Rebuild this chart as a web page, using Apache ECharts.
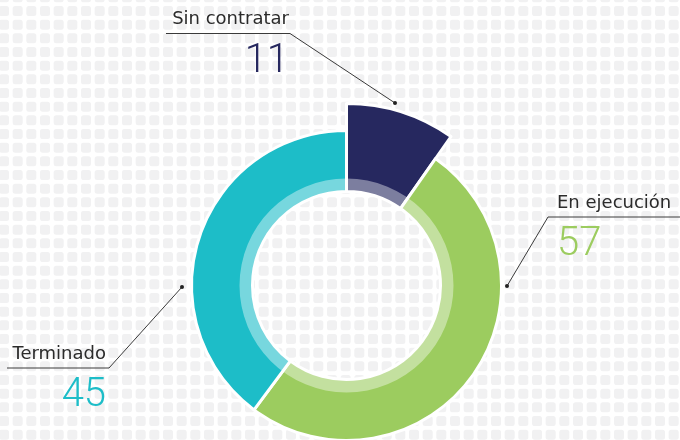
<!DOCTYPE html>
<html>
<head>
<meta charset="utf-8">
<script src="https://cdn.jsdelivr.net/npm/echarts@6/dist/echarts.min.js"></script>
<style>
  html, body { margin: 0; padding: 0; background: #fff; }
  #chart { width: 680px; height: 440px; }
</style>
</head>
<body>
<div id="chart"></div>
<script>
const categories = ['Sin contratar', 'En ejecución', 'Terminado'];
const values = [11, 57, 45];
const colors = ['#26285f', '#9ccc5f', '#1dbdc8'];

// ring geometry (px)
const cx = 346.5, cy = 285.5;
const rHole = 94, rBand = 107, rOuter = 155, rOuterBig = 182;

// label placement: anchor dot, elbow, end of underline
const labelSpots = [
  { dot: [395, 103], elbow: [290, 33.5], end: [166, 33.5], x: 289, align: 'right' },
  { dot: [507, 286], elbow: [548, 217], end: [682, 217], x: 557, align: 'left' },
  { dot: [182, 287], elbow: [109, 368], end: [7, 368], x: 106, align: 'right' },
];

// tiled background of light rounded squares
function makeTile() {
  const c = document.createElement('canvas');
  c.width = 41; c.height = 41;
  const ctx = c.getContext('2d');
  ctx.fillStyle = '#fff';
  ctx.fillRect(0, 0, 41, 41);
  ctx.fillStyle = '#f1f1f2';
  const xs = [-1, 12.67, 26.33, 40];
  const ys = [-7.67, 6, 19.67, 33.33];
  xs.forEach(x => ys.forEach(y => {
    ctx.beginPath();
    ctx.roundRect(x, y, 10, 10, 2.5);
    ctx.fill();
  }));
  return c;
}

const chart = echarts.init(document.getElementById('chart'));

const placeholder = { color: 'transparent', borderWidth: 0 };
const numStyle = c => ({ fontFamily: 'Roboto', fontWeight: 300, fontSize: 40, color: c, lineHeight: 58 });

chart.setOption({
  backgroundColor: { image: makeTile(), repeat: 'repeat' },
  animation: false,
  graphic: labelSpots.map(s => ({
    type: 'circle',
    shape: { cx: s.dot[0], cy: s.dot[1], r: 2 },
    style: { fill: '#222' },
    z: 100,
  })),
  series: [
    {
      // sin contratar sticks out further
      type: 'pie',
      center: [cx, cy],
      radius: [rHole, rOuterBig],
      startAngle: 90,
      silent: true,
      label: { show: false },
      labelLine: { show: false },
      data: values.map((v, i) => ({
        name: categories[i],
        value: v,
        itemStyle: i === 0 ? { color: colors[0], borderColor: '#fff', borderWidth: 3 } : placeholder,
      })),
    },
    {
      type: 'pie',
      center: [cx, cy],
      radius: [rHole, rOuter],
      startAngle: 90,
      silent: true,
      avoidLabelOverlap: false,
      label: {
        show: true,
        formatter: p => `{n|${p.name}}\n{v${p.dataIndex}|${p.value}}`,
        rich: {
          n: { fontFamily: 'DejaVu Sans', fontSize: 18, color: '#2b2b2b', lineHeight: 26 },
          v0: numStyle(colors[0]),
          v1: numStyle(colors[1]),
          v2: numStyle(colors[2]),
        },
      },
      labelLine: { show: true, lineStyle: { color: '#3a3a3a', width: 1 } },
      labelLayout: p => {
        const s = labelSpots[p.dataIndex];
        return {
          x: s.x,
          y: s.end[1] - 27,
          align: s.align,
          verticalAlign: 'top',
          labelLinePoints: [s.dot, s.elbow, s.end],
        };
      },
      data: values.map((v, i) => ({
        name: categories[i],
        value: v,
        itemStyle: i === 0 ? placeholder : { color: colors[i], borderColor: '#fff', borderWidth: 3 },
      })),
    },
    {
      // lighter inner band
      type: 'pie',
      center: [cx, cy],
      radius: [rHole, rBand],
      silent: true,
      label: { show: false },
      labelLine: { show: false },
      itemStyle: { color: 'rgba(255,255,255,0.4)', borderWidth: 0 },
      data: [1],
    },
  ],
});
</script>
</body>
</html>
